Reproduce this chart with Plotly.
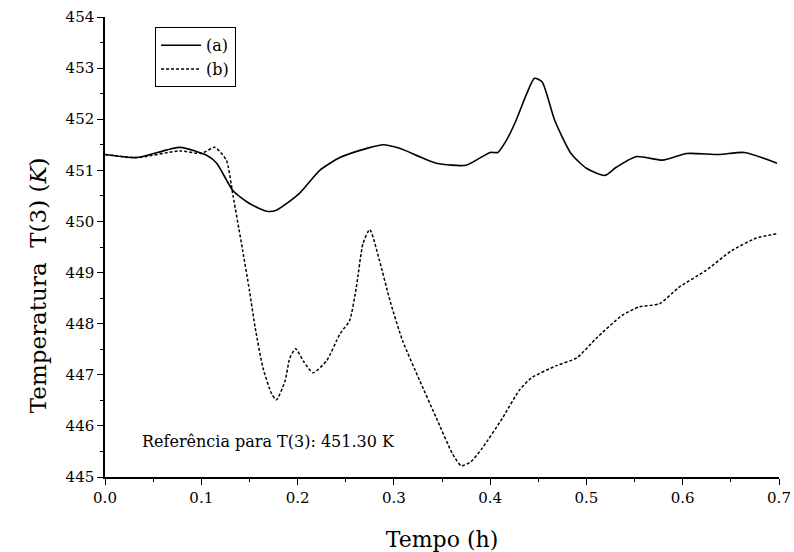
import plotly.graph_objects as go

# Curve (a)
xa = [0.000, 0.033, 0.078, 0.106, 0.116, 0.133, 0.150, 0.168, 0.178, 0.202, 0.223, 0.244,
      0.272, 0.289, 0.306, 0.344, 0.375, 0.400, 0.408, 0.417, 0.427, 0.438, 0.446, 0.454,
      0.467, 0.484, 0.500, 0.519, 0.531, 0.552, 0.579, 0.604, 0.638, 0.664, 0.698]
ya = [451.31, 451.25, 451.45, 451.29, 451.14, 450.60, 450.35, 450.20, 450.22, 450.55, 451.00, 451.25,
      451.43, 451.50, 451.43, 451.14, 451.10, 451.35, 451.35, 451.59, 451.98, 452.50, 452.80, 452.73,
      451.98, 451.33, 451.04, 450.90, 451.06, 451.27, 451.20, 451.33, 451.31, 451.35, 451.14]

# Curve (b)
xb = [0.000, 0.033, 0.078, 0.100, 0.114, 0.126, 0.133, 0.143, 0.150, 0.156, 0.164, 0.173,
      0.178, 0.187, 0.192, 0.198, 0.206, 0.216, 0.230, 0.244, 0.254, 0.261, 0.268, 0.275,
      0.285, 0.296, 0.309, 0.327, 0.344, 0.361, 0.370, 0.380, 0.392, 0.413, 0.430, 0.443,
      0.469, 0.490, 0.510, 0.537, 0.555, 0.576, 0.596, 0.624, 0.651, 0.676, 0.698]
yb = [451.31, 451.25, 451.38, 451.33, 451.45, 451.20, 450.50, 449.43, 448.65, 447.92, 447.14, 446.63,
      446.51, 446.88, 447.33, 447.51, 447.27, 447.04, 447.27, 447.80, 448.06, 448.71, 449.57, 449.84,
      449.24, 448.45, 447.67, 446.88, 446.16, 445.45, 445.22, 445.30, 445.57, 446.16, 446.69, 446.94,
      447.18, 447.33, 447.71, 448.16, 448.33, 448.39, 448.71, 449.04, 449.43, 449.67, 449.76]

names = ["(a)", "(b)"]
note = "Referência para T(3): 451.30 K"
xtitle = "Tempo (h)"
ytitle = "Temperatura\u00a0\u00a0T(3) (<i>K</i>)"
xticks = [0.0, 0.1, 0.2, 0.3, 0.4, 0.5, 0.6, 0.7]
yticks = [445, 446, 447, 448, 449, 450, 451, 452, 453, 454]

serif = "DejaVu Serif, Liberation Serif, serif"

fig = go.Figure()
fig.add_trace(go.Scatter(x=xa, y=ya, mode="lines", name=names[0],
                         line=dict(color="black", width=1.6, shape="spline", smoothing=0.6)))
fig.add_trace(go.Scatter(x=xb, y=yb, mode="lines", name=names[1],
                         line=dict(color="black", width=1.5, dash="3px,2px", shape="spline", smoothing=0.6)))

fig.add_annotation(x=0.036, y=445.70, xref="x", yref="y", text=note, showarrow=False,
                   xanchor="left", yanchor="middle", font=dict(family=serif, size=16, color="black"))

# y-axis title placed as a rotated annotation (it sits below the axis centre in the reference)
fig.add_annotation(x=-0.0994, y=0.417, xref="paper", yref="paper", text=ytitle, showarrow=False,
                   textangle=-90, xanchor="center", yanchor="middle",
                   font=dict(family=serif, size=23, color="black"))

axis_common = dict(showline=True, linecolor="black", linewidth=1.5, showgrid=False, zeroline=False,
                   ticks="outside", ticklen=6, tickwidth=1.2, tickcolor="black", mirror=False,
                   automargin=False,
                   tickfont=dict(family=serif, size=15, color="black"))

fig.update_xaxes(range=[0, 0.7], tickvals=xticks, ticktext=[f"{v:.1f}" for v in xticks],
                 title=dict(text=xtitle, font=dict(family=serif, size=22, color="black"), standoff=26),
                 minor=dict(dtick=0.05, ticks="outside", ticklen=3, tickcolor="black", tickwidth=1),
                 **axis_common)
fig.update_yaxes(range=[445, 454], tickvals=yticks,
                 minor=dict(dtick=0.5, ticks="outside", ticklen=3, tickcolor="black", tickwidth=1),
                 **axis_common)

fig.update_layout(
    width=794, height=552,
    margin=dict(l=105, r=15, t=17, b=75),
    plot_bgcolor="white", paper_bgcolor="white",
    showlegend=True,
    legend=dict(x=0.074, y=0.978, xanchor="left", yanchor="top",
                bgcolor="white", bordercolor="black", borderwidth=1.2,
                font=dict(family=serif, size=16, color="black"),
                tracegroupgap=6, itemwidth=40),
    font=dict(family=serif, color="black"),
)

fig.write_html("out.html", config={"displayModeBar": False},
               post_script="document.body.style.margin='0';")
